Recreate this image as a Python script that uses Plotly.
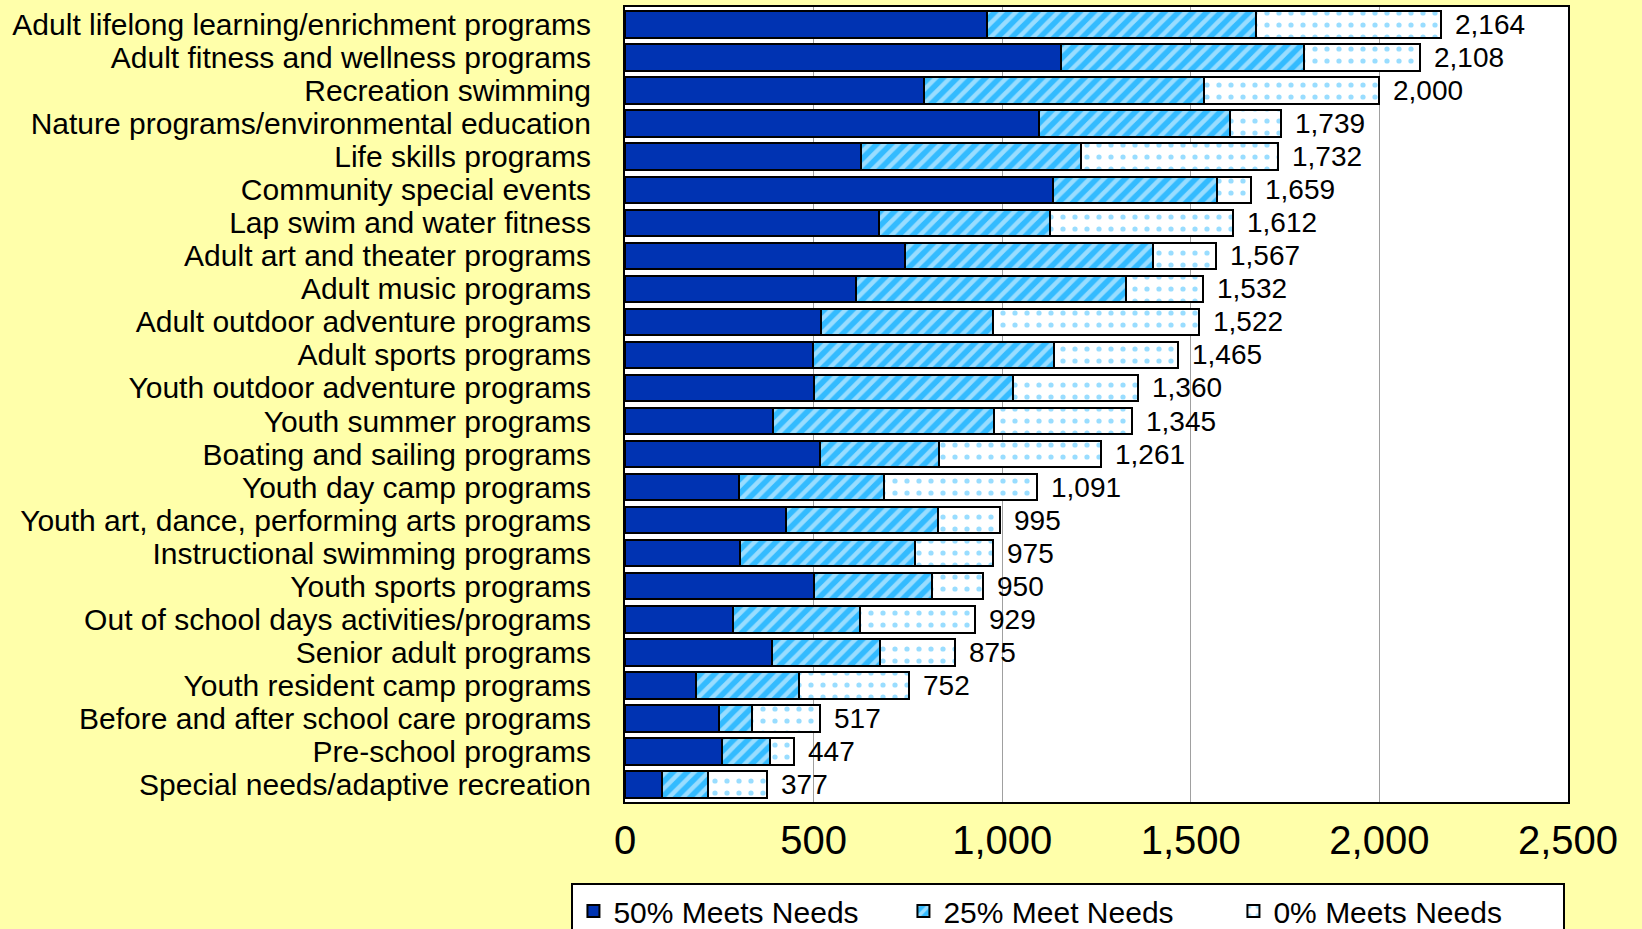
import plotly.graph_objects as go

# ── Data ───────────────────────────────────────────────────────────────────────
programs = [
    "Adult lifelong learning/enrichment programs",
    "Adult fitness and wellness programs",
    "Recreation swimming",
    "Nature programs/environmental education",
    "Life skills programs",
    "Community special events",
    "Lap swim and water fitness",
    "Adult art and theater programs",
    "Adult music programs",
    "Adult outdoor adventure programs",
    "Adult sports programs",
    "Youth outdoor adventure programs",
    "Youth summer programs",
    "Boating and sailing programs",
    "Youth day camp programs",
    "Youth art, dance, performing arts programs",
    "Instructional swimming programs",
    "Youth sports programs",
    "Out of school days activities/programs",
    "Senior adult programs",
    "Youth resident camp programs",
    "Before and after school care programs",
    "Pre-school programs",
    "Special needs/adaptive recreation",
]
meets_50 = [960, 1156, 793, 1098, 625, 1134, 673, 741, 612, 520, 499, 502,
            392, 516, 302, 426, 306, 500, 285, 391, 187, 248, 258, 99]
meets_25 = [713, 644, 743, 507, 585, 435, 454, 660, 717, 456, 639, 527,
            585, 317, 385, 404, 462, 314, 338, 285, 275, 89, 126, 121]
meets_0 = [491, 308, 464, 134, 522, 90, 485, 166, 203, 546, 327, 331,
           368, 428, 404, 165, 207, 136, 306, 199, 290, 180, 63, 157]
totals = [2164, 2108, 2000, 1739, 1732, 1659, 1612, 1567, 1532, 1522, 1465, 1360,
          1345, 1261, 1091, 995, 975, 950, 929, 875, 752, 517, 447, 377]
x_ticks = [0, 500, 1000, 1500, 2000, 2500]

# ── Styling ────────────────────────────────────────────────────────────────────
_FONT = "Liberation Sans, Arial, sans-serif"
_PAPER = "#FFFFAA"
_DARK_BLUE = "#0033B2"
_LIGHT_BLUE = "#33BBFF"
_OUTLINE = dict(color="black", width=2)

fig = go.Figure()
fig.add_trace(go.Bar(
    name="50% Meets Needs", y=programs, x=meets_50, orientation="h",
    marker=dict(color=_DARK_BLUE, line=_OUTLINE),
))
fig.add_trace(go.Bar(
    name="25% Meet Needs", y=programs, x=meets_25, orientation="h",
    marker=dict(color=_LIGHT_BLUE, line=_OUTLINE,
                pattern=dict(shape="/", fgcolor="white", size=10,
                             solidity=0.45, fillmode="overlay")),
))
fig.add_trace(go.Bar(
    name="0% Meets Needs", y=programs, x=meets_0, orientation="h",
    marker=dict(color="white", line=_OUTLINE,
                pattern=dict(shape=".", fgcolor=_LIGHT_BLUE, size=12,
                             solidity=0.15, fillmode="overlay")),
))

# total labels just past the end of each stacked bar
for prog, tot in zip(programs, totals):
    fig.add_annotation(
        x=tot, y=prog, text=f"{tot:,}", showarrow=False,
        xanchor="left", xshift=12,
        font=dict(family=_FONT, size=28, color="black"),
    )

fig.update_layout(
    barmode="stack",
    bargap=0.2,
    width=1642, height=929,
    paper_bgcolor=_PAPER,
    plot_bgcolor="white",
    # fixed margins: the legend is allowed to run off the bottom edge
    margin=dict(l=625, r=74, t=7, b=127, autoexpand=False),
    font=dict(family=_FONT, color="black"),
    xaxis=dict(
        range=[0, 2500], tickvals=x_ticks, tickformat=",d",
        tickfont=dict(size=40), ticks="", ticklabelstandoff=2,
        showgrid=True, gridcolor="#A0A0A0", gridwidth=1,
        showline=True, linecolor="black", linewidth=2, mirror=True,
        zeroline=False,
    ),
    yaxis=dict(
        autorange="reversed", tickmode="array", tickvals=programs,
        tickfont=dict(size=30), ticks="", ticklabelstandoff=26,
        showline=True, linecolor="black", linewidth=2, mirror=True,
    ),
    legend=dict(
        orientation="h", x=-0.0568, y=-0.102, xanchor="left", yanchor="top",
        bgcolor="white", bordercolor="black", borderwidth=2,
        font=dict(size=30), entrywidth=285, entrywidthmode="pixels",
        traceorder="normal",
    ),
)

# drop the default page margin so the chart fills the window
fig.write_html(
    "out.html",
    config={"displayModeBar": False},
    post_script="document.body.style.margin='0';",
)
